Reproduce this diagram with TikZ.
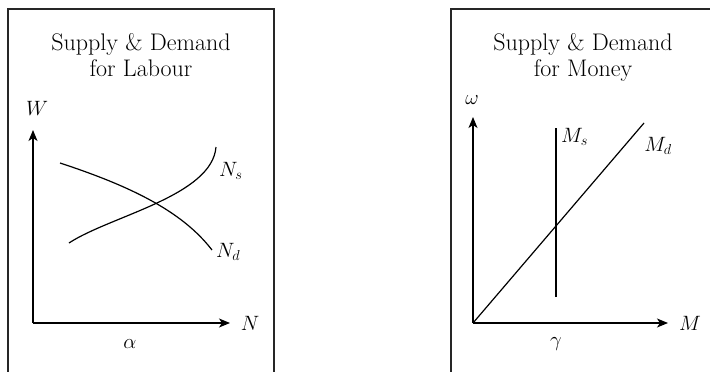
\documentclass[tikz,border=0pt]{standalone}
\usepackage{amsmath,amssymb}
\usepackage{tikz}
\usetikzlibrary{positioning,arrows.meta}

\begin{document}
\begin{tikzpicture}[
        x=1pt, y=-1pt,
        >={Stealth[length=11pt,width=9pt,inset=3pt]},
        panel/.style={line width=1.2pt, black!85},
        axis/.style={->, line width=1.3pt},
        curve/.style={line width=1.2pt},
        title/.style={font=\fontsize{24}{28}\selectfont, anchor=base, inner sep=0pt},
        lbl/.style={font=\fontsize{20}{24}\selectfont, inner sep=0pt},
    ]

    \useasboundingbox (0,0) rectangle (710,372);

    % panel frames (cut off at the bottom / right)
    \draw[panel] (8,380) -- (8,9) -- (274,9) -- (274,380);
    \draw[panel] (451,380) -- (451,9) -- (720,9);

    % left panel: labour market
    \node[title] (titleLa) at (141,50) {Supply \& Demand};
    \node[title] (titleLb) at (141,76) {for Labour};

    \coordinate (oL) at (33,323);
    \coordinate (wTip) at (33,130);
    \coordinate (nTip) at (230,323);
    \node[lbl] (wLbl) at (37,108) {$W$};
    \node[lbl] (nLbl) at (250,323) {$N$};
    \node[lbl] (alpha) at (130,344) {$\alpha$};

    \draw[axis] (oL) -- (wTip);
    \draw[axis] (oL) -- (nTip);

    \coordinate (ndA) at (60,163);
    \coordinate (ndB) at (212,250);
    \coordinate (nsA) at (69,243);
    \coordinate (nsB) at (216,147);
    \draw[curve] (ndA) .. controls (130,186) and (182,211) .. (ndB);
    \draw[curve] (nsA) .. controls (110,216) and (212,196) .. (nsB);
    \node[lbl, right=3pt of nsB, yshift=-24pt] (nsLbl) {$N_s$};
    \node[lbl, right=4pt of ndB, yshift=-2pt] (ndLbl) {$N_d$};

    % right panel: money market
    \node[title] (titleRa) at (583,50) {Supply \& Demand};
    \node[title] (titleRb) at (583,76) {for Money};

    \coordinate (oR) at (473,323);
    \coordinate (omTip) at (473,117);
    \coordinate (mTip) at (668,323);
    \node[lbl] (omLbl) at (472,100) {$\omega$};
    \node[lbl] (mLbl) at (690,323) {$M$};
    \node[lbl] (gamma) at (556,344) {$\gamma$};

    \draw[axis] (oR) -- (omTip);
    \draw[axis] (oR) -- (mTip);

    \coordinate (msTop) at (556,128);
    \coordinate (msBot) at (556,297);
    \coordinate (mdEnd) at (644,123);
    \draw[curve] (msBot) -- (msTop);
    \draw[curve] (oR) -- (mdEnd);
    \node[lbl, right=5pt of msTop, yshift=-9pt] (msLbl) {$M_s$};
    \node[lbl] (mdLbl) at (658,146) {$M_d$};
\end{tikzpicture}
\end{document}
